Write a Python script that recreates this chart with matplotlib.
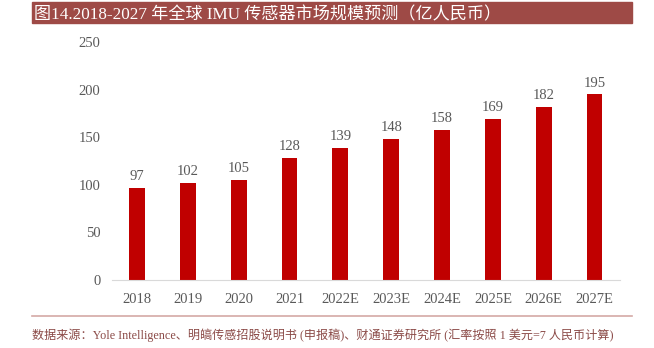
import matplotlib
matplotlib.use('Agg')
import matplotlib.pyplot as plt
from matplotlib.patches import Rectangle
from matplotlib.lines import Line2D

years = ['2018', '2019', '2020', '2021', '2022E', '2023E', '2024E', '2025E', '2026E', '2027E']
market = [97, 102, 105, 128, 139, 148, 158, 169, 182, 195]
yticks = [0, 50, 100, 150, 200, 250]

title = '图14.2018-2027 年全球 IMU 传感器市场规模预测（亿人民币）'
source = '数据来源：Yole Intelligence、明皜传感招股说明书 (申报稿)、财通证券研究所 (汇率按照 1 美元=7 人民币计算)'

fonts = ['Liberation Serif', 'Noto Sans CJK SC', 'DejaVu Sans']
plt.rcParams['font.family'] = fonts
grey = '#595959'

fig = plt.figure(figsize=(6.54, 3.48), dpi=100)
ax = fig.add_axes([0.1706, 0.1954, 0.7774, 0.6836])

x = range(len(years))
bars = ax.bar(x, market, width=0.31, color='#C00000')
for xi, v in zip(x, market):
    ax.text(xi, v + 5, str(v), ha='center', va='bottom', fontsize=10.5, color=grey)

ax.set_xlim(-0.5, len(years) - 0.5)
ax.set_ylim(0, 250)
ax.set_yticks(yticks)
ax.set_xticks(list(x))
ax.set_xticklabels(years)
ax.tick_params(axis='both', length=0, labelsize=10.5, colors=grey)
ax.tick_params(axis='y', pad=8)
ax.tick_params(axis='x', pad=9)
for s in ['top', 'right', 'left']:
    ax.spines[s].set_visible(False)
ax.spines['bottom'].set_color('#D9D9D9')

# title bar
fig.patches.append(Rectangle((32 / 654, 1 - 23 / 348), 600 / 654, 21 / 348,
                             transform=fig.transFigure, color='#9E4A46', zorder=0))
fig.text(34 / 654, 1 - 13 / 348, title, color='white', fontsize=12.3, va='center_baseline', ha='left')

# footer
fig.lines.append(Line2D([32 / 654, 632 / 654], [1 - 316 / 348] * 2, transform=fig.transFigure,
                        color='#D4A9A6', lw=1.2))
fig.text(32 / 654, 1 - 334 / 348, source, color='#8B4A47', fontsize=8.7, va='center_baseline', ha='left')

fig.savefig('out.png', dpi=100)
